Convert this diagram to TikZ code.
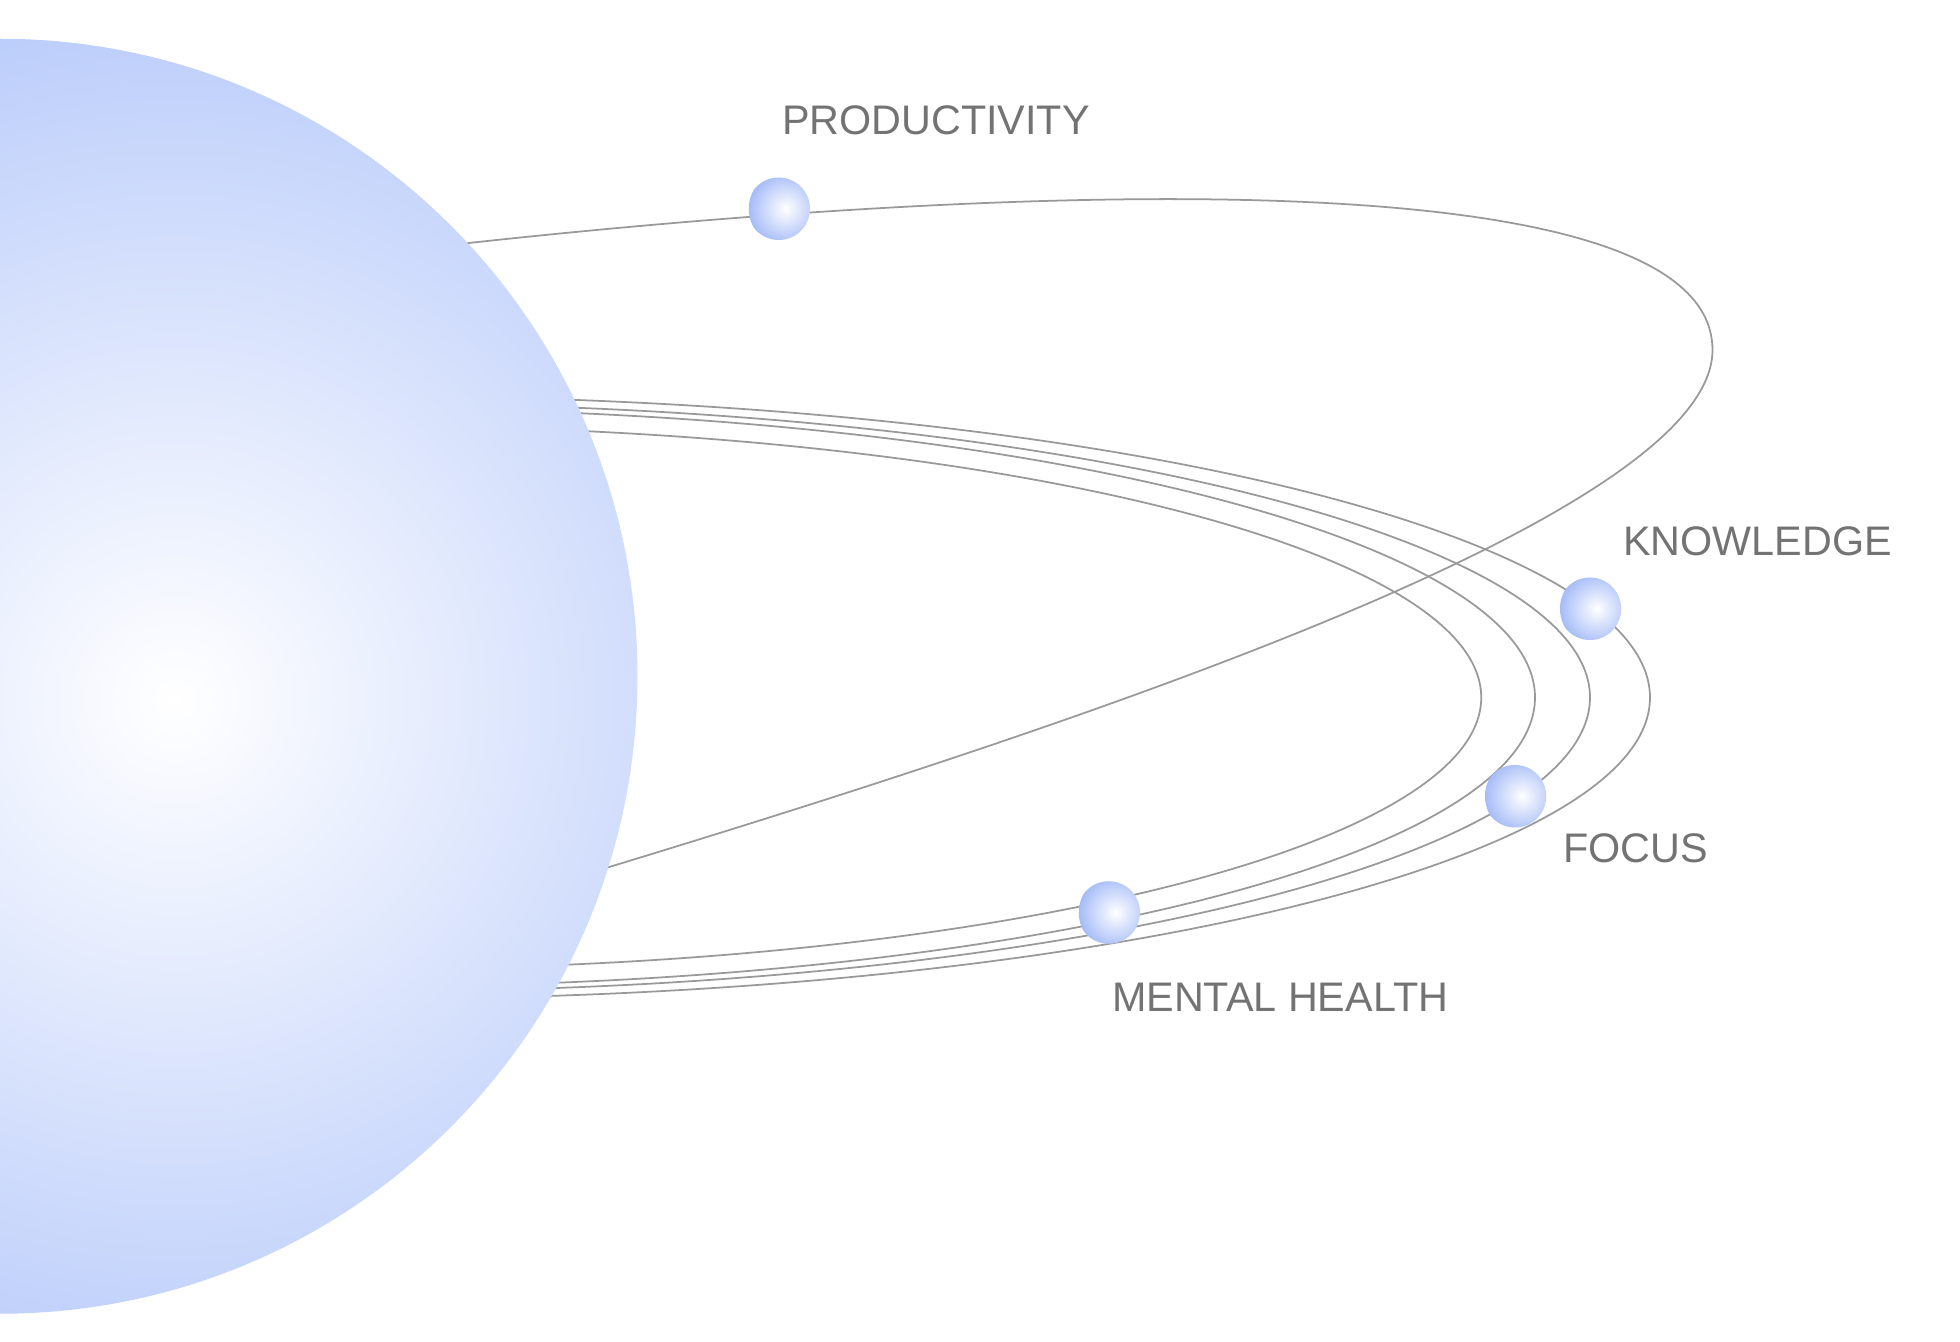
\documentclass[tikz,border=0pt]{standalone}
\usepackage{fontspec}
\setmainfont{Liberation Sans}
\begin{document}
\begin{tikzpicture}[x=0.01cm,y=-0.01cm,
  orbit/.style={draw=gray!80,line width=0.4pt},
  lbl/.style={anchor=west,text=black!55,font=\fontsize{9.4}{11}\selectfont,inner sep=0pt}]
\useasboundingbox (0,0) rectangle (1568,1073);
\definecolor{pb}{HTML}{B3C7FA}
\definecolor{mb}{HTML}{A3BAF7}
\tikzset{moon/.style={circle,minimum size=0.5cm,inner sep=0pt,path picture={\shade[inner color=white,outer color=mb] ([xshift=0.06cm]path picture bounding box.center) circle [radius=0.3cm];}}}
% orbits
\draw[orbit] (300,203) .. controls (700,155) and (1370,110) .. (1370,280) .. controls (1370,420) and (800,600) .. (400,720);
\draw[orbit] (300,558) ellipse [x radius=1020, y radius=241];
\draw[orbit] (300,558) ellipse [x radius=972, y radius=235];
\draw[orbit] (300,558) ellipse [x radius=928, y radius=231];
\draw[orbit] (300,558) ellipse [x radius=885, y radius=217];
% planet
\begin{scope}
\clip (0,541) circle [radius=510];
\shade[inner color=white, outer color=pb] (140,560) circle [radius=620];
\end{scope}
\fill[white] (-600,-100) rectangle (0,1200);
\useasboundingbox (0,0) rectangle (1568,1073);
% moons
\node[moon] (p) at (623,167) {};
\node[moon] (k) at (1272,487) {};
\node[moon] (f) at (1212,637) {};
\node[moon] (m) at (887,730) {};
\node[lbl] (lp) at (625,96) {PRODUCTIVITY};
\node[lbl] (lk) at (1298,433) {KNOWLEDGE};
\node[lbl] (lf) at (1250,679) {FOCUS};
\node[lbl] (lm) at (889,798) {MENTAL HEALTH};
\end{tikzpicture}
\end{document}
